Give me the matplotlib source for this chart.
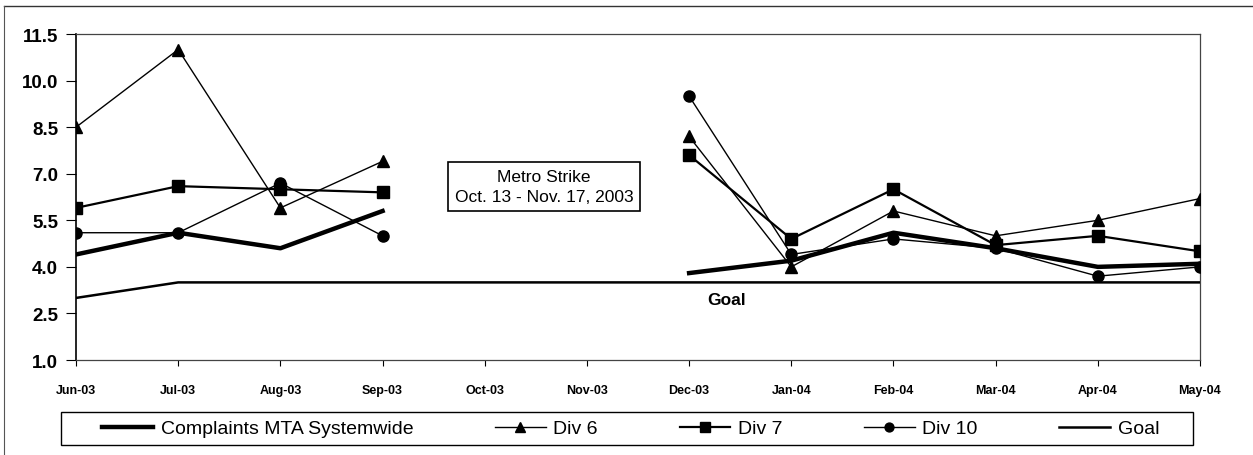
import numpy as np
import matplotlib
matplotlib.use("Agg")
import matplotlib.pyplot as plt
from matplotlib.lines import Line2D
from matplotlib.patches import Rectangle

plt.rcParams['font.family'] = ['Liberation Sans', 'DejaVu Sans']

# Data (NaN = Metro strike gap)
months = ["Jun-03", "Jul-03", "Aug-03", "Sep-03", "Oct-03", "Nov-03",
          "Dec-03", "Jan-04", "Feb-04", "Mar-04", "Apr-04", "May-04"]
nan = np.nan
systemwide = [4.4, 5.1, 4.6, 5.8, nan, nan, 3.8, 4.2, 5.1, 4.6, 4.0, 4.1]
div6 = [8.5, 11.0, 5.9, 7.4, nan, nan, 8.2, 4.0, 5.8, 5.0, 5.5, 6.2]
div7 = [5.9, 6.6, 6.5, 6.4, nan, nan, 7.6, 4.9, 6.5, 4.7, 5.0, 4.5]
div10 = [5.1, 5.1, 6.7, 5.0, nan, nan, 9.5, 4.4, 4.9, 4.6, 3.7, 4.0]
goal = [3.0, 3.5, 3.5, 3.5, 3.5, 3.5, 3.5, 3.5, 3.5, 3.5, 3.5, 3.5]
yticks = [1.0, 2.5, 4.0, 5.5, 7.0, 8.5, 10.0, 11.5]

x = np.arange(len(months))

W, H = 1253, 456
fig = plt.figure(figsize=(W / 100, H / 100), dpi=100)
ax = fig.add_axes([0.0607, 0.2083, 0.897, 0.7149])

ax.plot(x, systemwide, color="black", lw=3.2, label="Complaints MTA Systemwide", zorder=5)
ax.plot(x, div6, color="black", lw=1.0, marker="^", ms=9, label="Div 6", zorder=4)
ax.plot(x, div7, color="black", lw=1.6, marker="s", ms=9, label="Div 7", zorder=4)
ax.plot(x, div10, color="black", lw=1.0, marker="o", ms=8, label="Div 10", zorder=4)
ax.plot(x, goal, color="black", lw=1.8, label="Goal", zorder=3)

ax.set_xlim(0, 11)
ax.set_ylim(1.0, 11.5)
ax.set_xticks(x)
ax.set_xticklabels(months, fontsize=9, fontweight="bold")
ax.set_yticks(yticks)
ax.set_yticklabels(["%.1f" % v for v in yticks], fontsize=13.5, fontweight="bold")
ax.tick_params(axis="y", length=7, width=0.8, pad=6)
ax.tick_params(axis="x", length=4, width=0.8, pad=13)
for s in ["top", "right", "bottom"]:
    ax.spines[s].set_linewidth(0.9)
    ax.spines[s].set_color("#444444")
ax.spines["left"].set_linewidth(1.2)

ax.text(4.58, 6.59, "Metro Strike\nOct. 13 - Nov. 17, 2003", ha="center", va="center",
        fontsize=12.5, linespacing=1.35,
        bbox=dict(boxstyle="square,pad=0.4", fc="white", ec="black", lw=1.2))
ax.text(6.37, 2.95, "Goal", ha="center", va="center", fontsize=12.5, fontweight="bold")

# legend box drawn separately so it can be wider than its contents
fig.add_artist(Rectangle((61 / W, 1 - 446 / H), (1193 - 61) / W, 33 / H,
                         transform=fig.transFigure, fill=False, ec="black", lw=1.0))
fig.legend(loc="center", bbox_to_anchor=(0.5035, 1 - 429.5 / H), ncol=5,
           fontsize=14, frameon=False,
           handlelength=2.6, handletextpad=0.4, columnspacing=4.2,
           borderpad=0.2, borderaxespad=0, markerscale=0.8)

# page frame remnants
fig.add_artist(Line2D([0.003, 1.0], [1 - 6.5 / H, 1 - 6.5 / H], color="#333333", lw=1.0))
fig.add_artist(Line2D([0.0035, 0.0035], [0.0, 1 - 6.5 / H], color="#555555", lw=0.8))

fig.savefig("out.png", dpi=100)
